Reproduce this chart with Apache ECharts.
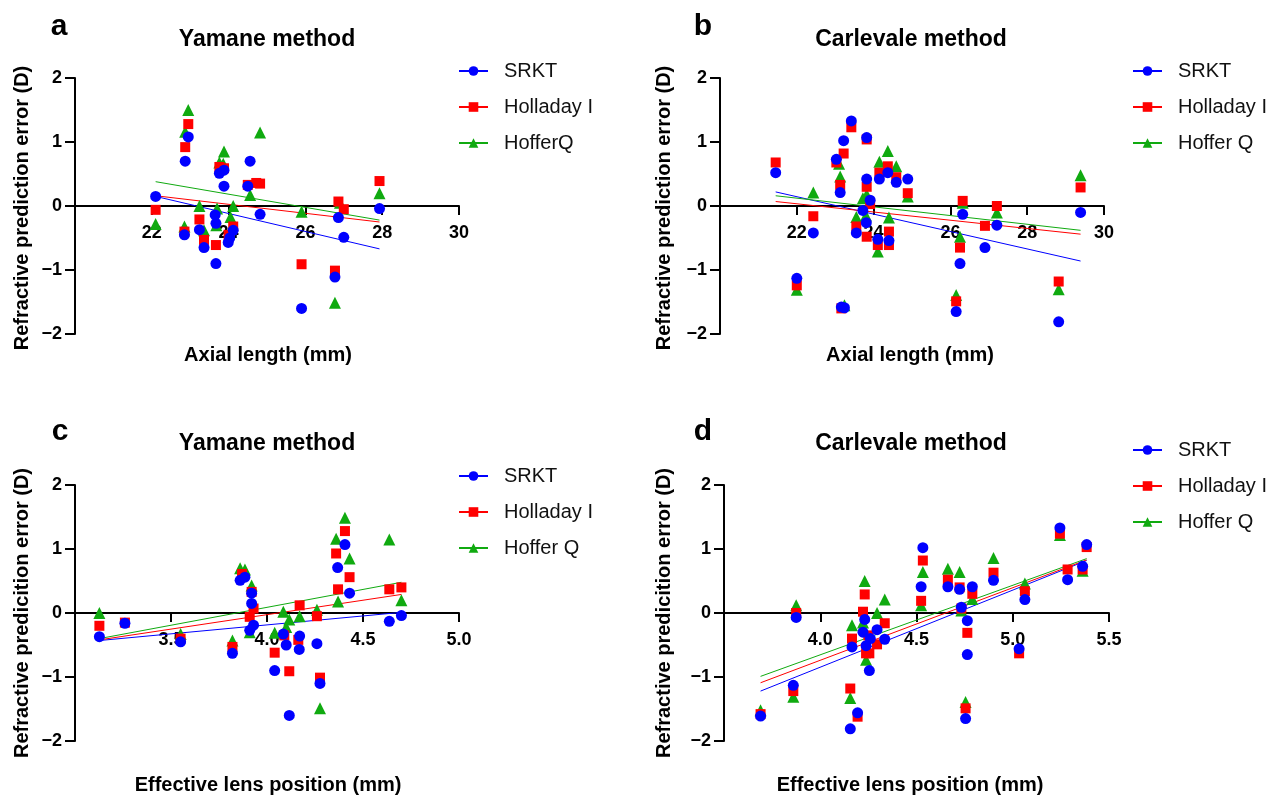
<!DOCTYPE html>
<html>
<head>
<meta charset="utf-8">
<title>Refractive prediction error</title>
<script src="https://cdn.jsdelivr.net/npm/echarts@6.0.0/dist/echarts.min.js"></script>
<style>
  html, body { margin: 0; padding: 0; background: #fff; }
  #chart { width: 1268px; height: 795px; }
</style>
</head>
<body>
<div id="chart"></div>
<script>
// ---- data: [x, refractive prediction error] ----
// panel a: Yamane method vs axial length
const aSrkt = [[22.1,0.15],[22.87,0.70],[22.95,1.08],[22.85,-0.45],[23.24,-0.37],[23.36,-0.65],[23.67,-0.90],[23.65,-0.14],[23.67,-0.27],[23.76,0.51],[23.88,0.56],[23.88,0.31],[23.99,-0.57],[24.03,-0.50],[24.12,-0.38],[24.56,0.70],[24.5,0.31],[24.82,-0.13],[25.9,-1.60],[26.86,-0.18],[27.0,-0.49],[26.77,-1.11],[27.93,-0.04]];
const aHolladay = [[22.1,-0.06],[22.95,1.28],[22.87,0.92],[22.85,-0.40],[23.24,-0.21],[23.36,-0.53],[23.67,-0.61],[23.76,0.61],[23.88,0.59],[24.0,-0.45],[24.12,-0.32],[24.5,0.33],[24.72,0.36],[24.82,0.35],[25.9,-0.91],[26.86,0.07],[27.0,-0.05],[26.77,-1.01],[27.93,0.39]];
const aHoffer = [[22.1,-0.28],[22.95,1.50],[22.87,1.16],[22.85,-0.32],[23.24,0.0],[23.36,-0.38],[23.7,-0.04],[23.68,-0.30],[23.88,0.85],[23.76,0.68],[23.86,0.66],[24.05,-0.17],[24.12,0.0],[24.56,0.17],[24.82,1.15],[25.9,-0.09],[26.9,0.05],[26.77,-1.51],[27.93,0.20]];
const aSrktFit = [[22.1,0.15],[27.93,-0.67]];
const aHolladayFit = [[22.1,0.16],[27.93,-0.25]];
const aHofferFit = [[22.1,0.38],[27.93,-0.22]];

// panel b: Carlevale method vs axial length
const bSrkt = [[21.45,0.52],[22.43,-0.42],[22.0,-1.13],[23.03,0.73],[23.22,1.02],[23.42,1.33],[23.13,0.21],[23.16,-1.58],[23.24,-1.59],[23.82,1.07],[23.82,0.42],[23.91,0.09],[23.72,-0.07],[23.81,-0.26],[23.55,-0.42],[24.11,-0.52],[24.4,-0.54],[24.15,0.42],[24.37,0.52],[24.59,0.37],[24.89,0.42],[26.32,-0.13],[26.25,-0.90],[26.15,-1.65],[26.9,-0.65],[27.21,-0.30],[28.82,-1.81],[29.39,-0.10]];
const bHolladay = [[21.45,0.68],[22.43,-0.16],[22.0,-1.24],[23.03,0.68],[23.22,0.82],[23.42,1.23],[23.13,0.33],[23.16,-1.60],[23.82,1.04],[23.82,0.30],[23.91,0.03],[23.55,-0.32],[23.82,-0.48],[24.11,-0.61],[24.4,-0.61],[24.4,-0.40],[24.15,0.52],[24.37,0.62],[24.59,0.45],[24.89,0.20],[26.32,0.08],[26.25,-0.65],[26.15,-1.49],[26.9,-0.31],[27.21,0.0],[28.82,-1.18],[29.39,0.29]];
const bHoffer = [[22.43,0.21],[22.0,-1.31],[23.1,0.66],[23.13,0.46],[23.24,-1.55],[23.72,0.12],[23.82,0.18],[23.8,-0.15],[23.55,-0.17],[24.11,-0.71],[24.4,-0.18],[24.15,0.69],[24.37,0.86],[24.59,0.62],[24.89,0.15],[26.32,0.05],[26.25,-0.48],[26.15,-1.39],[27.21,-0.10],[28.82,-1.30],[29.39,0.48]];
const bSrktFit = [[21.45,0.22],[29.39,-0.86]];
const bHolladayFit = [[21.45,0.07],[29.39,-0.44]];
const bHofferFit = [[21.45,0.16],[29.39,-0.38]];

// panel c: Yamane method vs effective lens position
const cSrkt = [[3.127,-0.37],[3.26,-0.16],[3.55,-0.45],[3.82,-0.63],[3.86,0.51],[3.885,0.56],[3.92,0.31],[3.92,0.15],[3.93,-0.19],[3.91,-0.27],[4.04,-0.90],[4.085,-0.33],[4.10,-0.50],[4.116,-1.60],[4.17,-0.36],[4.168,-0.57],[4.26,-0.48],[4.276,-1.10],[4.406,1.07],[4.368,0.71],[4.43,0.31],[4.637,-0.13],[4.70,-0.04]];
const cHolladay = [[3.127,-0.20],[3.26,-0.15],[3.55,-0.40],[3.82,-0.53],[3.87,0.61],[3.92,0.33],[3.93,0.07],[3.91,-0.06],[4.04,-0.62],[4.09,-0.35],[4.116,-0.91],[4.163,-0.42],[4.17,0.12],[4.26,-0.05],[4.276,-1.01],[4.406,1.28],[4.36,0.93],[4.43,0.56],[4.37,0.37],[4.637,0.37],[4.70,0.40]];
const cHoffer = [[3.127,0.0],[3.55,-0.33],[3.82,-0.43],[3.86,0.70],[3.885,0.68],[3.92,0.43],[3.91,-0.30],[4.04,-0.31],[4.085,0.02],[4.10,-0.22],[4.116,-0.10],[4.17,-0.05],[4.26,0.05],[4.276,-1.49],[4.406,1.49],[4.36,1.16],[4.43,0.85],[4.37,0.18],[4.637,1.15],[4.70,0.20]];
const cSrktFit = [[3.127,-0.43],[4.70,0.01]];
const cHolladayFit = [[3.127,-0.42],[4.70,0.29]];
const cHofferFit = [[3.127,-0.40],[4.70,0.48]];

// panel d: Carlevale method vs effective lens position
const dSrkt = [[3.69,-1.61],[3.875,-0.07],[3.86,-1.13],[4.156,-1.81],[4.194,-1.56],[4.165,-0.53],[4.231,-0.10],[4.222,-0.30],[4.238,-0.51],[4.255,-0.90],[4.26,-0.40],[4.295,-0.26],[4.335,-0.41],[4.533,1.02],[4.524,0.41],[4.663,0.41],[4.724,0.37],[4.733,0.09],[4.79,0.41],[4.764,-0.12],[4.764,-0.65],[4.755,-1.65],[4.9,0.51],[5.063,0.21],[5.033,-0.56],[5.245,1.33],[5.285,0.52],[5.363,0.73],[5.384,1.07]];
const dHolladay = [[3.69,-1.58],[3.875,0.0],[3.86,-1.22],[4.156,-1.18],[4.194,-1.62],[4.165,-0.40],[4.231,0.29],[4.222,0.02],[4.238,-0.63],[4.255,-0.63],[4.25,-0.35],[4.295,-0.49],[4.335,-0.16],[4.533,0.82],[4.524,0.19],[4.663,0.52],[4.724,0.40],[4.733,0.07],[4.79,0.30],[4.764,-0.31],[4.755,-1.49],[4.9,0.63],[5.063,0.34],[5.033,-0.63],[5.245,1.24],[5.285,0.68],[5.363,0.68],[5.384,1.03]];
const dHoffer = [[3.69,-1.52],[3.875,0.12],[3.86,-1.31],[4.156,-1.33],[4.165,-0.19],[4.231,0.50],[4.222,-0.15],[4.238,-0.73],[4.295,0.0],[4.335,0.21],[4.533,0.64],[4.524,0.12],[4.663,0.69],[4.724,0.64],[4.733,0.04],[4.79,0.22],[4.755,-1.39],[4.9,0.86],[5.063,0.46],[5.245,1.22],[5.363,0.66]];
const dSrktFit = [[3.69,-1.22],[5.384,0.82]];
const dHolladayFit = [[3.69,-1.09],[5.384,0.83]];
const dHofferFit = [[3.69,-0.99],[5.384,0.85]];

// axis ranges / tick steps
const xRanges = [[20, 30, 2], [20, 30, 2], [3.0, 5.0, 0.5], [3.5, 5.5, 0.5]];
const yRange = [-2, 2, 1];

const namesA = ['SRKT', 'Holladay I', 'HofferQ'];
const namesB = ['SRKT', 'Holladay I', 'Hoffer Q'];
const panelLetters = ['a', 'b', 'c', 'd'];
const panelTitles = ['Yamane method', 'Carlevale method', 'Yamane method', 'Carlevale method'];
const xNames = ['Axial length (mm)', 'Axial length (mm)', 'Effective lens position (mm)', 'Effective lens position (mm)'];
const yNames = ['Refractive prediction error (D)', 'Refractive prediction error (D)',
                'Refractive predicition error (D)', 'Refractive predicition error (D)'];

const FONT = '"Liberation Sans", Arial, Helvetica, sans-serif';
const COLORS = ['#0000ff', '#ff0000', '#10aa10'];
const SYMBOLS = ['circle', 'rect', 'triangle'];
const SIZES = [11, 10, 12];
const ZS = [4, 3, 2];

const panels = [
  { pts: [aSrkt, aHolladay, aHoffer], fits: [aSrktFit, aHolladayFit, aHofferFit], names: namesA },
  { pts: [bSrkt, bHolladay, bHoffer], fits: [bSrktFit, bHolladayFit, bHofferFit], names: namesB },
  { pts: [cSrkt, cHolladay, cHoffer], fits: [cSrktFit, cHolladayFit, cHofferFit], names: namesB },
  { pts: [dSrkt, dHolladay, dHoffer], fits: [dSrktFit, dHolladayFit, dHofferFit], names: namesB }
];

const GRID_H = 256;
const grids = [
  { left: 75, top: 78, width: 384, height: GRID_H },
  { left: 720, top: 78, width: 384, height: GRID_H },
  { left: 75, top: 485, width: 384, height: GRID_H },
  { left: 724, top: 485, width: 385, height: GRID_H }
];
const legendPos = [[458, 61], [1132, 61], [458, 466], [1132, 440]];
const letterPos = [[59, 27], [703, 27], [60, 432], [703, 432]];
const titlePos = [[267, 40], [911, 40], [267, 444], [911, 444]];
const xNamePos = [[268, 355], [910, 355], [268, 785], [910, 785]];
const yNamePos = [[22, 208], [664, 208], [22, 613], [664, 613]];

const axisLineStyle = { color: '#000', width: 2 };
const tickFont = { color: '#000', fontWeight: 'bold', fontSize: 18, fontFamily: FONT };

// the x axis crosses at y = 0, which sits in the middle of the symmetric y range
const xAxes = xRanges.map((r, g) => ({
  type: 'value', gridIndex: g, min: r[0], max: r[1], interval: r[2],
  position: 'bottom', offset: -GRID_H / 2,
  axisLine: { show: true, onZero: false, lineStyle: axisLineStyle },
  axisTick: { show: true, length: 9, lineStyle: axisLineStyle },
  axisLabel: Object.assign({ showMinLabel: false, margin: 18,
    formatter: v => (r[2] < 1 ? v.toFixed(1) : String(v)) }, tickFont),
  splitLine: { show: false }
}));

const yAxes = grids.map((_, g) => ({
  type: 'value', gridIndex: g, min: yRange[0], max: yRange[1], interval: yRange[2],
  axisLine: { show: true, onZero: false, lineStyle: axisLineStyle },
  axisTick: { show: true, length: 10, lineStyle: axisLineStyle },
  axisLabel: Object.assign({ margin: 13,
    formatter: v => (v < 0 ? '\u2212' + Math.abs(v) : String(v)) }, tickFont),
  splitLine: { show: false }
}));

const series = [];
panels.forEach((p, g) => {
  // fit lines first so the legend shows line + marker icons
  p.fits.forEach((fit, i) => {
    series.push({
      type: 'line', name: p.names[i], xAxisIndex: g, yAxisIndex: g, data: fit,
      symbol: SYMBOLS[i], symbolSize: SIZES[i], showSymbol: false,
      lineStyle: { color: COLORS[i], width: 1 }, itemStyle: { color: COLORS[i] },
      z: 1, silent: true
    });
  });
  p.pts.forEach((pts, i) => {
    series.push({
      type: 'scatter', name: p.names[i], xAxisIndex: g, yAxisIndex: g, data: pts,
      symbol: SYMBOLS[i], symbolSize: SIZES[i],
      itemStyle: { color: COLORS[i], opacity: 1 }, z: ZS[i]
    });
  });
});

const legends = panels.map((p, g) => ({
  data: p.names, orient: 'vertical', left: legendPos[g][0], top: legendPos[g][1],
  padding: 0, itemWidth: 29, itemHeight: 12, itemGap: 16, selectedMode: false,
  textStyle: { fontSize: 20, color: '#111', fontFamily: FONT, padding: [0, 0, 0, 11] }
}));

const texts = [];
function addText(txt, pos, font, rot) {
  texts.push({
    type: 'text', x: pos[0], y: pos[1], rotation: rot || 0,
    style: { text: txt, font: font, fill: '#000', textAlign: 'center', textVerticalAlign: 'middle' }
  });
}
for (let g = 0; g < 4; g++) {
  addText(panelLetters[g], letterPos[g], 'bold 30px ' + FONT);
  addText(panelTitles[g], titlePos[g], 'bold 23px ' + FONT);
  addText(xNames[g], xNamePos[g], 'bold 20px ' + FONT);
  addText(yNames[g], yNamePos[g], 'bold 20px ' + FONT, Math.PI / 2);
}

const chart = echarts.init(document.getElementById('chart'));
chart.setOption({
  backgroundColor: '#fff',
  animation: false,
  grid: grids.map(gr => Object.assign({ outerBoundsMode: 'none', containLabel: false }, gr)),
  xAxis: xAxes,
  yAxis: yAxes,
  legend: legends,
  series: series,
  graphic: texts
});
window.addEventListener('resize', chart.resize);
</script>
</body>
</html>
